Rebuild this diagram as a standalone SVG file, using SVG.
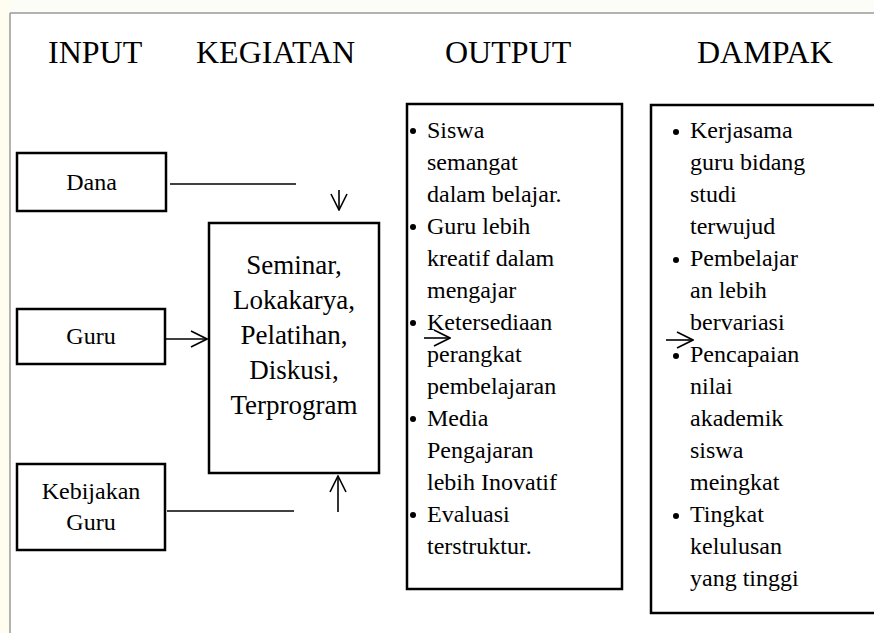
<svg xmlns="http://www.w3.org/2000/svg" width="874" height="633" viewBox="0 0 874 633">
<style>
  .frame { stroke: #9a9a9a; stroke-width: 1.5; fill: none; }
  .node { fill: #ffffff; stroke: #000000; stroke-width: 2.5; }
  .conn { stroke: #000000; stroke-width: 1.6; fill: none; }
  .hdr { font-family: "Liberation Serif", "Times New Roman", serif; font-size: 32px; fill: #000; }
  .lbl { font-family: "Liberation Serif", "Times New Roman", serif; font-size: 24px; fill: #000; text-anchor: middle; }
  .big { font-family: "Liberation Serif", "Times New Roman", serif; font-size: 27px; fill: #000; text-anchor: middle; }
  .lst { font-family: "Liberation Serif", "Times New Roman", serif; font-size: 24px; fill: #000; }
</style>
<defs>
  <marker id="openArrow" viewBox="0 0 18 18" refX="17" refY="9" markerWidth="18" markerHeight="18" markerUnits="userSpaceOnUse" orient="auto">
    <path d="M1,1 L17,9 L1,17" fill="none" stroke="#000" stroke-width="1.6"/>
  </marker>
</defs>
<rect x="0" y="0" width="874" height="633" fill="#ffffff"/>
<rect x="0" y="0" width="10" height="633" fill="#fffcf0"/>
<rect x="10" y="0" width="864" height="13" fill="#fbfdf6"/>
<g id="frame">
  <line class="frame" x1="10" y1="13" x2="874" y2="13"/>
  <line class="frame" x1="10" y1="13" x2="10" y2="633"/>
</g>
<g id="headers">
  <text class="hdr" x="48" y="63">INPUT</text>
  <text class="hdr" x="196" y="63">KEGIATAN</text>
  <text class="hdr" x="445" y="63">OUTPUT</text>
  <text class="hdr" x="697" y="63">DAMPAK</text>
</g>
<g id="node-dana">
  <rect class="node" x="17" y="153" width="149" height="58"/>
  <text class="lbl" x="91.5" y="190">Dana</text>
</g>
<g id="node-guru">
  <rect class="node" x="17" y="309" width="148" height="55"/>
  <text class="lbl" x="91" y="344">Guru</text>
</g>
<g id="node-kebijakan">
  <rect class="node" x="17" y="464" width="148" height="86"/>
  <text class="lbl" x="91" y="499">Kebijakan</text>
  <text class="lbl" x="91" y="530">Guru</text>
</g>
<g id="node-kegiatan">
  <rect class="node" x="209" y="223" width="170" height="250"/>
  <text class="big" x="294" y="274">Seminar,</text>
  <text class="big" x="294" y="309">Lokakarya,</text>
  <text class="big" x="294" y="344">Pelatihan,</text>
  <text class="big" x="294" y="379">Diskusi,</text>
  <text class="big" x="294" y="414">Terprogram</text>
</g>
<g id="node-output">
  <rect class="node" x="407" y="104" width="215" height="485"/>
  <circle cx="413" cy="131" r="3"/>
  <circle cx="413" cy="227" r="3"/>
  <circle cx="413" cy="323" r="3"/>
  <circle cx="413" cy="419" r="3"/>
  <circle cx="413" cy="515" r="3"/>
  <text class="lst" x="427" y="138">Siswa</text>
  <text class="lst" x="427" y="170">semangat</text>
  <text class="lst" x="427" y="202">dalam belajar.</text>
  <text class="lst" x="427" y="234">Guru lebih</text>
  <text class="lst" x="427" y="266">kreatif dalam</text>
  <text class="lst" x="427" y="298">mengajar</text>
  <text class="lst" x="427" y="330">Ketersediaan</text>
  <text class="lst" x="427" y="362">perangkat</text>
  <text class="lst" x="427" y="394">pembelajaran</text>
  <text class="lst" x="427" y="426">Media</text>
  <text class="lst" x="427" y="458">Pengajaran</text>
  <text class="lst" x="427" y="490">lebih Inovatif</text>
  <text class="lst" x="427" y="522">Evaluasi</text>
  <text class="lst" x="427" y="554">terstruktur.</text>
</g>
<g id="node-dampak">
  <rect class="node" x="651" y="105" width="240" height="508"/>
  <circle cx="676" cy="132" r="3"/>
  <circle cx="676" cy="260" r="3"/>
  <circle cx="676" cy="356" r="3"/>
  <circle cx="676" cy="516" r="3"/>
  <text class="lst" x="690" y="138">Kerjasama</text>
  <text class="lst" x="690" y="170">guru bidang</text>
  <text class="lst" x="690" y="202">studi</text>
  <text class="lst" x="690" y="234">terwujud</text>
  <text class="lst" x="690" y="266">Pembelajar</text>
  <text class="lst" x="690" y="298">an lebih</text>
  <text class="lst" x="690" y="330">bervariasi</text>
  <text class="lst" x="690" y="362">Pencapaian</text>
  <text class="lst" x="690" y="394">nilai</text>
  <text class="lst" x="690" y="426">akademik</text>
  <text class="lst" x="690" y="458">siswa</text>
  <text class="lst" x="690" y="490">meingkat</text>
  <text class="lst" x="690" y="522">Tingkat</text>
  <text class="lst" x="690" y="554">kelulusan</text>
  <text class="lst" x="690" y="586">yang tinggi</text>
</g>
<g id="connectors">
  <line class="conn" x1="170" y1="184" x2="296" y2="184"/>
  <line class="conn" x1="339" y1="190" x2="339" y2="210" marker-end="url(#openArrow)"/>
  <line class="conn" x1="166" y1="339" x2="207" y2="339" marker-end="url(#openArrow)"/>
  <line class="conn" x1="167" y1="511" x2="294" y2="511"/>
  <line class="conn" x1="338" y1="512" x2="338" y2="476" marker-end="url(#openArrow)"/>
  <line class="conn" x1="424" y1="338" x2="450" y2="338" marker-end="url(#openArrow)"/>
  <line class="conn" x1="666" y1="340" x2="693" y2="340" marker-end="url(#openArrow)"/>
</g>
</svg>
